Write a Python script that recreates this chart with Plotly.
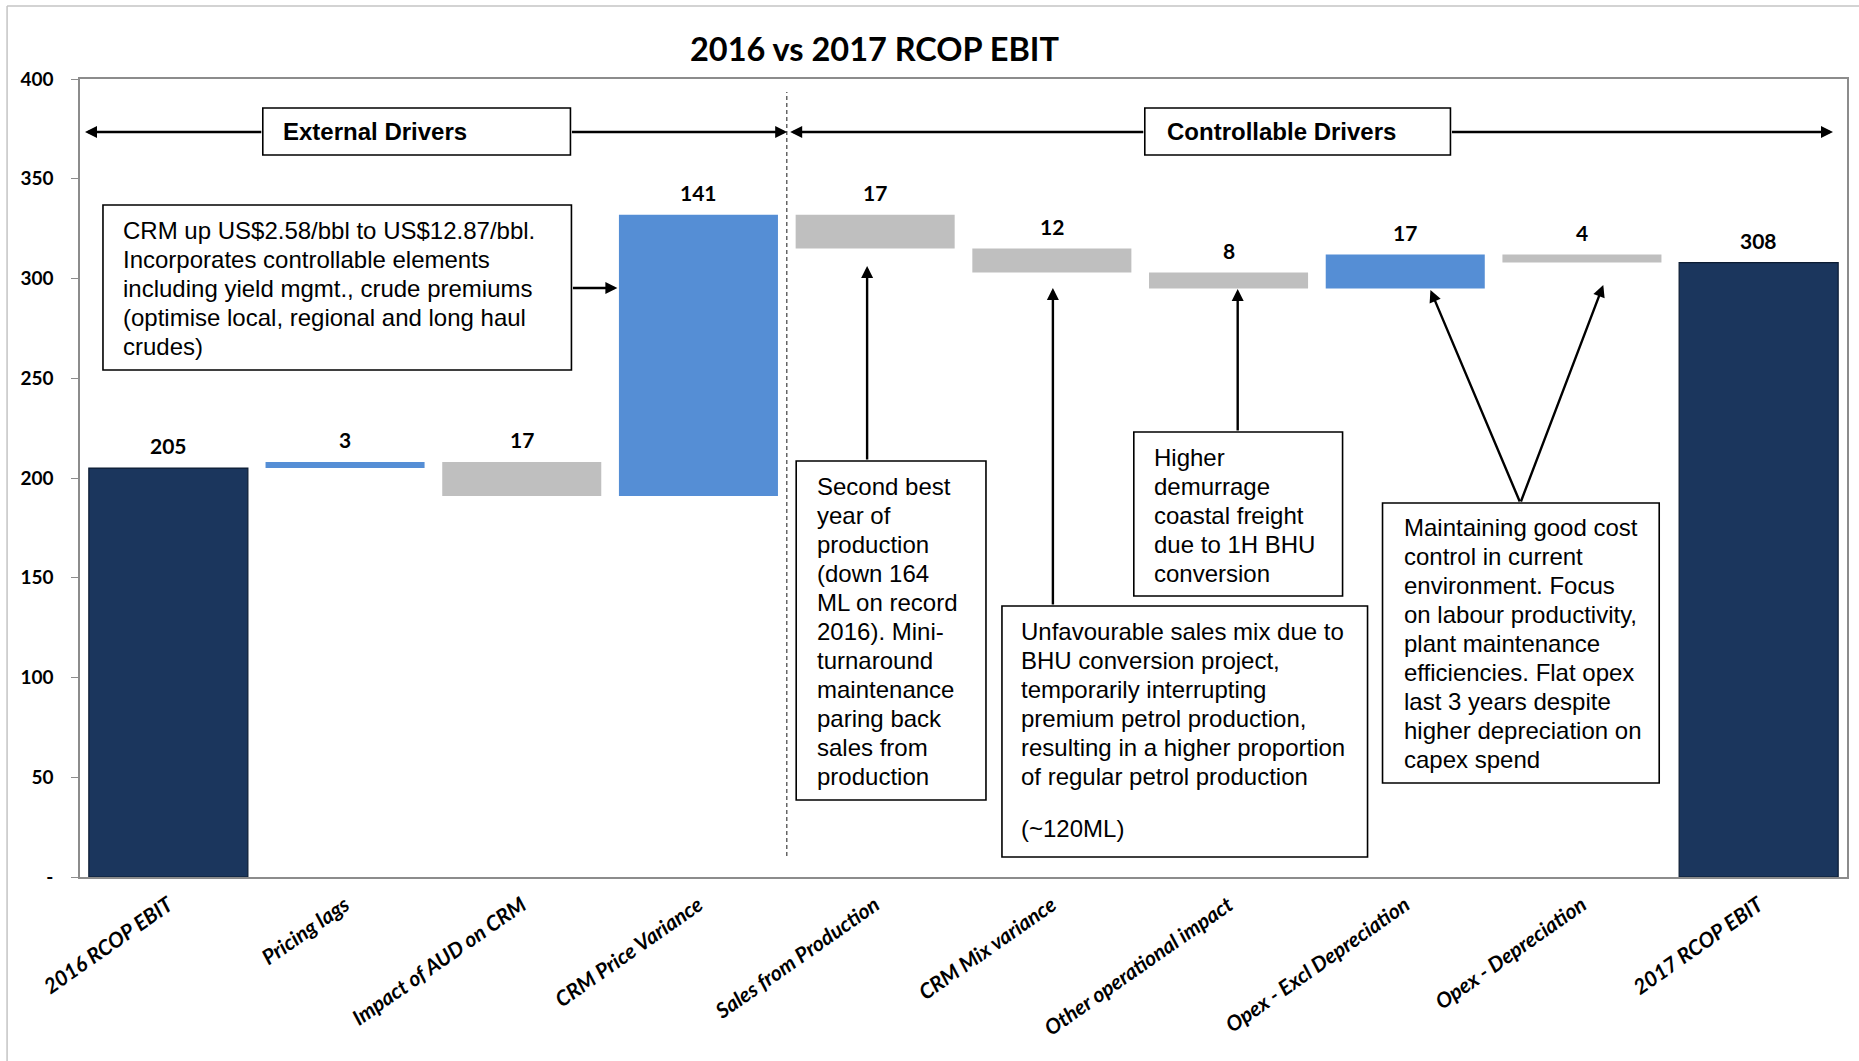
import plotly.graph_objects as go

# ---- data -------------------------------------------------------------
categories = [
    "2016 RCOP EBIT", "Pricing lags", "Impact of AUD on CRM", "CRM Price Variance",
    "Sales from Production", "CRM Mix variance", "Other operational impact",
    "Opex - Excl Depreciation", "Opex - Depreciation", "2017 RCOP EBIT",
]
values = [205, 3, -17, 141, -17, -12, -8, 17, -4, 308]
measures = ["absolute", "relative", "relative", "relative", "relative",
            "relative", "relative", "relative", "relative", "absolute"]

y_ticks = [0, 50, 100, 150, 200, 250, 300, 350, 400]
y_tick_text = ["-", "50", "100", "150", "200", "250", "300", "350", "400"]

crm_note = [
    "CRM up US$2.58/bbl to US$12.87/bbl.",
    "Incorporates controllable elements",
    "including yield mgmt., crude premiums",
    "(optimise local, regional and long haul",
    "crudes)",
]
production_note = [
    "Second best", "year of", "production", "(down 164", "ML on record",
    "2016). Mini-", "turnaround", "maintenance", "paring back", "sales from",
    "production",
]
mix_note = [
    "Unfavourable sales mix due to",
    "BHU conversion project,",
    "temporarily interrupting",
    "premium petrol production,",
    "resulting in a higher proportion",
    "of regular petrol production",
]
mix_note_tail = "(~120ML)"
demurrage_note = ["Higher", "demurrage", "coastal freight", "due to 1H BHU", "conversion"]
opex_note = [
    "Maintaining good cost", "control in current", "environment. Focus",
    "on labour productivity,", "plant maintenance", "efficiencies. Flat opex",
    "last 3 years despite", "higher depreciation on", "capex spend",
]

# ---- styling ----------------------------------------------------------
NAVY = "#1b365d"
BLUE = "#558ed5"
GRAY = "#bfbfbf"
AXIS = "#8c8c8c"
CAL = "Lato, 'Open Sans', sans-serif"
ARIAL = "'Liberation Sans', Arial, sans-serif"

W, H = 1859, 1061
ML, MR, MT, MB = 80, 10, 79, 184
PW, PH = W - ML - MR, H - MT - MB
Y_MAX = 400
N = len(categories)


def px_x(px):
    return (px - ML) / PW


def px_y(py):
    return (H - MB - py) / PH


def dat_x(px):
    return (px - ML) / (PW / N) - 0.5


def dat_y(py):
    return (H - MB - py) / (PH / Y_MAX)


# ---- bars -------------------------------------------------------------
fig = go.Figure(go.Waterfall(
    x=list(range(N)), y=values, measure=measures, width=0.9,
    increasing=dict(marker=dict(color=BLUE)),
    decreasing=dict(marker=dict(color=GRAY)),
    totals=dict(marker=dict(color=NAVY, line=dict(color="#0c1c33", width=1.2))),
    connector=dict(visible=False), textinfo="none", hoverinfo="skip",
))

annotations = []
shapes = []

# value labels above every bar
running = 0
for i, (v, m) in enumerate(zip(values, measures)):
    if m == "absolute":
        top = v
        running = v
    else:
        top = max(running, running + v)
        running += v
    annotations.append(dict(
        x=i, y=top, xref="x", yref="y", text=str(abs(v)), showarrow=False,
        yanchor="bottom", yshift=8,
        font=dict(family=CAL, size=21, color="black", weight="bold"),
    ))

# title
annotations.append(dict(
    x=px_x(875), y=px_y(49), xref="paper", yref="paper", xanchor="center",
    yanchor="middle", showarrow=False, text="2016 vs 2017 RCOP EBIT",
    font=dict(family=CAL, size=32.5, color="black", weight="bold"),
))


def arrow(tail, head):
    annotations.append(dict(
        x=dat_x(head[0]), y=dat_y(head[1]), ax=dat_x(tail[0]), ay=dat_y(tail[1]),
        xref="x", yref="y", axref="x", ayref="y", text="", showarrow=True,
        arrowhead=2, arrowsize=1.0, arrowwidth=2.4, arrowcolor="black", standoff=0,
    ))


def box(x0, y0, x1, y1, width=1.6):
    shapes.append(dict(
        type="rect", xref="paper", yref="paper", x0=px_x(x0), x1=px_x(x1),
        y0=px_y(y0), y1=px_y(y1), fillcolor="white", layer="above",
        line=dict(color="black", width=width),
    ))


def text_lines(lines, left, first_center, step=29, size=24, bold=False):
    for k, line in enumerate(lines):
        annotations.append(dict(
            x=px_x(left), y=px_y(first_center + k * step), xref="paper", yref="paper",
            xanchor="left", yanchor="middle", showarrow=False, text=line,
            font=dict(family=ARIAL, size=size, color="black",
                      weight="bold" if bold else "normal"),
        ))


# driver headers and their arrows
ROW = 132
arrow((263, ROW), (85, ROW))
arrow((571, ROW), (788, ROW))
arrow((1146, ROW), (791, ROW))
arrow((1452, ROW), (1835, ROW))
box(263, 108, 571, 155)
box(1146, 108, 1452, 155)
text_lines(["External Drivers"], 281, ROW, bold=True)
text_lines(["Controllable Drivers"], 1166, ROW, bold=True)

# separator between external and controllable drivers
shapes.append(dict(
    type="line", xref="x", yref="y", x0=3.5, x1=3.5, y0=dat_y(856), y1=dat_y(92),
    line=dict(color="#404040", width=1.2, dash="4px,3px"),
))

# commentary boxes
box(103, 205, 572, 370)
text_lines(crm_note, 121, 230)
arrow((572, 288), (618, 288))

box(797, 461, 987, 800)
text_lines(production_note, 816, 486)
arrow((868, 461), (868, 266))

box(1003, 606, 1369, 857)
text_lines(mix_note, 1020, 631)
text_lines([mix_note_tail], 1020, 828)
arrow((1054, 606), (1054, 288))

box(1135, 432, 1344, 596)
text_lines(demurrage_note, 1153, 457)
arrow((1239, 432), (1239, 289))

box(1384, 503, 1661, 783)
text_lines(opex_note, 1403, 527)
arrow((1522, 503), (1432, 290))
arrow((1522, 503), (1605, 285))

# outer frame of the chart area
shapes.append(dict(type="line", xref="paper", yref="paper", x0=px_x(7), x1=px_x(7),
                   y0=px_y(6), y1=px_y(H + 5), line=dict(color="#c4c4c4", width=1.5)))
shapes.append(dict(type="line", xref="paper", yref="paper", x0=px_x(7), x1=px_x(W + 5),
                   y0=px_y(6), y1=px_y(6), line=dict(color="#c4c4c4", width=1.5)))

fig.update_layout(
    width=W, height=H, autosize=False,
    margin=dict(l=ML, r=MR, t=MT, b=MB),
    paper_bgcolor="white", plot_bgcolor="white", showlegend=False,
    xaxis=dict(
        range=[-0.5, N - 0.5], tickmode="array", tickvals=list(range(N)),
        ticktext=categories, tickangle=-35, showgrid=False, zeroline=False,
        showline=True, linecolor=AXIS, linewidth=1.5, mirror=True, ticks="",
        ticklabelstandoff=6,
        tickfont=dict(family=CAL, size=21, color="black", weight="bold", style="italic"),
    ),
    yaxis=dict(
        range=[0, Y_MAX], tickmode="array", tickvals=y_ticks, ticktext=y_tick_text,
        showgrid=False, zeroline=False, showline=True, linecolor=AXIS, linewidth=1.5,
        mirror=True, ticks="outside", ticklen=7, tickcolor=AXIS, tickwidth=1.2,
        ticklabelstandoff=14,
        tickfont=dict(family=CAL, size=19, color="black", weight="bold"),
    ),
    annotations=annotations, shapes=shapes,
)

fig.write_html("out.html")
